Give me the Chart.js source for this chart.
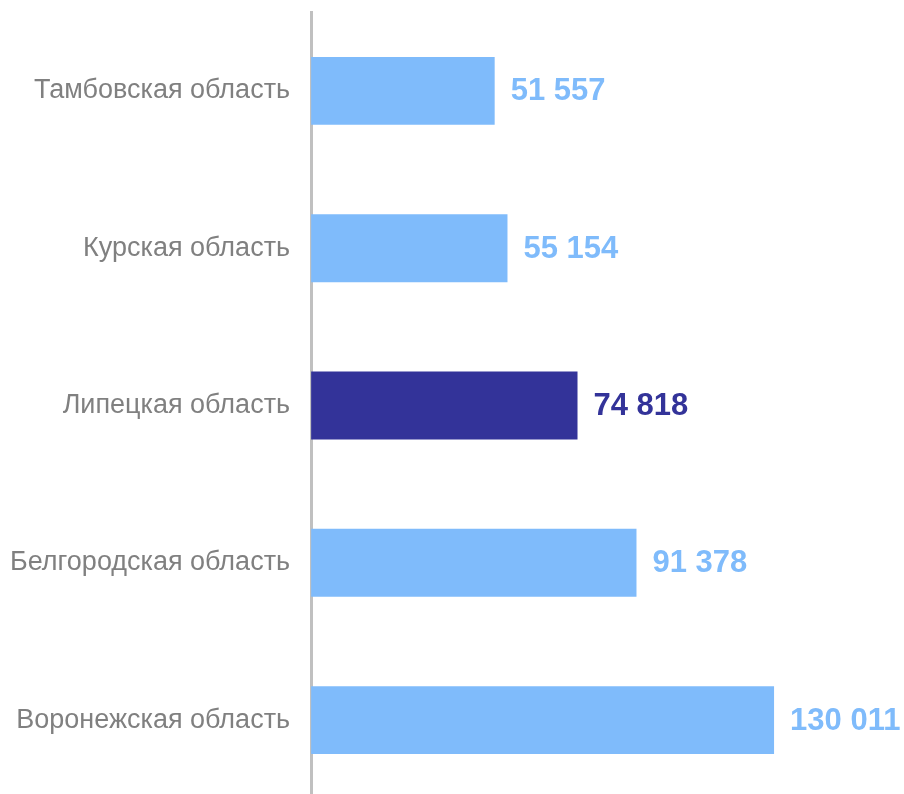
<!DOCTYPE html>
<html>
<head>
<meta charset="utf-8">
<script src="https://cdn.jsdelivr.net/npm/chart.js@4.4.1/dist/chart.umd.min.js"></script>
<style>
  html, body { margin: 0; padding: 0; background: #ffffff; overflow: hidden; }
  #wrap { width: 915px; height: 861px; margin-top: -25px; margin-left: -11px; }
</style>
</head>
<body>
<div id="wrap"><canvas id="js-region-chart" width="915" height="861"></canvas></div>
<script>
const regions = ['Тамбовская область', 'Курская область', 'Липецкая область', 'Белгородская область', 'Воронежская область'];
const values = [51557, 55154, 74818, 91378, 130011];
const highlight = 'Липецкая область';

const lightBlue = '#7fbbfb';
const darkBlue = '#333399';
const barColors = regions.map(r => r === highlight ? darkBlue : lightBlue);

function fmt(v) {
    return String(v).replace(/\B(?=(\d{3})+(?!\d))/g, ' ');
}

// value labels to the right of each bar
const valueLabels = {
    id: 'valueLabels',
    afterDatasetsDraw(chart) {
        const ctx = chart.ctx;
        const meta = chart.getDatasetMeta(0);
        ctx.save();
        ctx.font = 'bold 31px "Liberation Sans", Arial, sans-serif';
        ctx.textAlign = 'left';
        ctx.textBaseline = 'middle';
        meta.data.forEach((bar, i) => {
            ctx.fillStyle = barColors[i];
            ctx.fillText(fmt(values[i]), bar.x + 16, bar.y + 1);
        });
        ctx.restore();
    }
};

let chartRegion = new Chart(document.getElementById('js-region-chart').getContext('2d'), {
    type: 'bar',
    data: {
        labels: regions,
        datasets: [{
            data: values,
            backgroundColor: barColors,
            borderWidth: 0,
            barPercentage: 0.432,
            categoryPercentage: 1
        }]
    },
    options: {
        indexAxis: 'y',
        responsive: false,
        animation: false,
        layout: { padding: 0 },
        plugins: {
            legend: { display: false },
            tooltip: { enabled: false }
        },
        scales: {
            x: {
                display: false,
                min: 0,
                max: 166500
            },
            y: {
                grid: { display: false, drawTicks: false },
                border: { display: true, color: '#c0c0c0', width: 3 },
                ticks: {
                    color: '#808080',
                    padding: 21,
                    font: { family: '"Liberation Sans", Arial, sans-serif', size: 27 }
                }
            }
        }
    },
    plugins: [valueLabels]
});
</script>
</body>
</html>
